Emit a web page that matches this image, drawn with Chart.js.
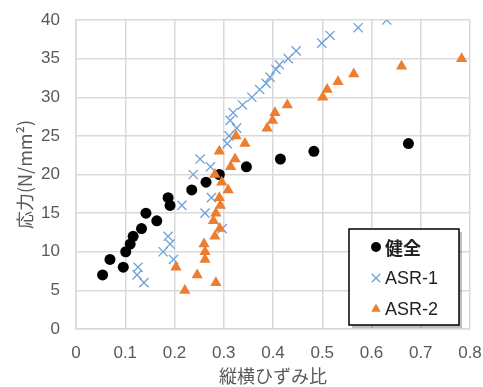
<!DOCTYPE html>
<html>
<head>
<meta charset="utf-8">
<script src="https://cdn.jsdelivr.net/npm/chart.js@4"></script>
<style>
  html, body { margin: 0; padding: 0; background: #fff; }
  #wrap { width: 483px; height: 387px; }
</style>
</head>
<body>
<div id="wrap"><canvas id="c"></canvas></div>
<script>
const seriesNames = ['健全', 'ASR-1', 'ASR-2'];

const kenzenX = [0.054, 0.069, 0.096, 0.101, 0.110, 0.116, 0.133, 0.142, 0.164, 0.187, 0.191, 0.235, 0.264, 0.291, 0.346, 0.415, 0.483, 0.675];
const kenzenY = [7, 9, 8, 10, 11, 12, 13, 15, 14, 17, 16, 18, 19, 20, 21, 22, 23, 24];

const asr1X = [0.138, 0.124, 0.126, 0.198, 0.177, 0.191, 0.187, 0.297, 0.262, 0.215, 0.275, 0.238, 0.273, 0.252, 0.307, 0.311,
               0.326, 0.313, 0.319, 0.338, 0.357, 0.373, 0.386, 0.394, 0.406, 0.413, 0.431, 0.447, 0.499, 0.516, 0.573, 0.631];
const asr1Y = [6, 7, 8, 9, 10, 11, 12, 13, 15, 16, 17, 20, 21, 22, 24, 25,
               26, 27, 28, 29, 30, 31, 31.8, 32.6, 33.6, 34.2, 35, 36, 37, 38, 39, 40];

const asr2X = [0.221, 0.284, 0.246, 0.203, 0.262, 0.262, 0.260, 0.282, 0.292, 0.279, 0.284, 0.293, 0.291, 0.309, 0.296, 0.282,
               0.314, 0.323, 0.291, 0.343, 0.325, 0.388, 0.399, 0.404, 0.429, 0.501, 0.510, 0.532, 0.564, 0.661, 0.783];
const asr2Y = [5, 6, 7, 8, 9, 10, 11, 12, 13, 14, 15, 16, 17, 18, 19, 20,
               21, 22, 23, 24, 25, 26, 27, 28, 29, 30, 31, 32, 33, 34, 35];

const xTicks = [0, 0.1, 0.2, 0.3, 0.4, 0.5, 0.6, 0.7, 0.8];
const yTicks = [0, 5, 10, 15, 20, 25, 30, 35, 40];

const toPoints = (xs, ys) => xs.map((x, i) => ({ x: x, y: ys[i] }));

const gridColor = '#d9d9d9';
const textColor = '#595959';
const numFont = "'Liberation Sans', 'Noto Sans CJK JP', sans-serif";
const jpFont = "'Noto Sans CJK JP', 'Liberation Sans', sans-serif";

// legend box drawn inside the plot, like the Excel one
const legendBox = {
    id: 'legendBox',
    afterDraw(chart) {
        const ctx = chart.ctx;
        const bx = 349, by = 229, bw = 110, bh = 96;
        ctx.save();
        ctx.fillStyle = 'rgba(0,0,0,0.25)';
        ctx.fillRect(bx + 3, by + 3, bw, bh);
        ctx.fillStyle = '#fff';
        ctx.fillRect(bx, by, bw, bh);
        ctx.strokeStyle = '#000';
        ctx.lineWidth = 1.5;
        ctx.strokeRect(bx, by, bw, bh);
        ctx.restore();

        chart.data.datasets.forEach((ds, i) => {
            const cy = by + 18 + i * 31;
            ctx.save();
            ctx.fillStyle = ds.pointBackgroundColor;
            ctx.strokeStyle = ds.pointBorderColor;
            ctx.lineWidth = ds.pointBorderWidth;
            Chart.helpers.drawPoint(ctx, {
                pointStyle: ds.pointStyle,
                radius: ds.legendRadius,
                rotation: 0,
                borderWidth: ds.pointBorderWidth
            }, 376, cy);
            ctx.fillStyle = '#222';
            ctx.font = i === 0 ? "bold 18px " + jpFont : "18px " + numFont;
            ctx.textBaseline = 'middle';
            ctx.fillText(ds.label, 385, cy + 1);
            ctx.restore();
        });
    }
};

new Chart(document.getElementById('c'), {
    type: 'scatter',
    data: {
        datasets: [{
            label: seriesNames[0],
            data: toPoints(kenzenX, kenzenY),
            pointStyle: 'circle',
            pointRadius: 5.5,
            legendRadius: 5,
            pointBackgroundColor: '#000',
            pointBorderColor: '#000',
            pointBorderWidth: 0,
            order: 3
        }, {
            label: seriesNames[1],
            data: toPoints(asr1X, asr1Y),
            pointStyle: 'crossRot',
            pointRadius: 6.5,
            legendRadius: 6,
            pointBackgroundColor: '#6fa0d8',
            pointBorderColor: '#6fa0d8',
            pointBorderWidth: 1.3,
            order: 2
        }, {
            label: seriesNames[2],
            data: toPoints(asr2X, asr2Y),
            pointStyle: 'triangle',
            pointRadius: 6.5,
            legendRadius: 5.5,
            pointBackgroundColor: '#ed7d31',
            pointBorderColor: '#ed7d31',
            pointBorderWidth: 0,
            order: 1
        }]
    },
    options: {
        responsive: true,
        maintainAspectRatio: false,
        animation: false,
        layout: { padding: { top: 20, right: 13, left: 0, bottom: 0 } },
        plugins: {
            legend: { display: false },
            tooltip: { enabled: false }
        },
        scales: {
            x: {
                type: 'linear',
                min: 0,
                max: 0.8,
                afterFit: s => { s.height = 58; s.paddingLeft = 0; s.paddingRight = 0; },
                afterBuildTicks: s => { s.ticks = xTicks.map(v => ({ value: v })); },
                grid: { color: gridColor, lineWidth: 1.5, drawTicks: false },
                border: { color: gridColor, width: 1.5 },
                ticks: {
                    padding: 14,
                    color: textColor,
                    font: { family: numFont, size: 17 },
                    callback: v => String(v)
                },
                title: {
                    display: true,
                    text: '縦横ひずみ比',
                    color: textColor,
                    font: { family: jpFont, size: 18 },
                    padding: 0
                }
            },
            y: {
                type: 'linear',
                min: 0,
                max: 40,
                afterFit: s => { s.width = 76; s.paddingTop = 0; s.paddingBottom = 0; },
                afterBuildTicks: s => { s.ticks = yTicks.map(v => ({ value: v })); },
                grid: { color: gridColor, lineWidth: 1.5, drawTicks: false },
                border: { color: gridColor, width: 1.5 },
                ticks: {
                    padding: 16,
                    color: textColor,
                    font: { family: numFont, size: 17 }
                },
                title: {
                    display: true,
                    text: '応力(N/mm²)',
                    color: textColor,
                    font: { family: jpFont, size: 18 },
                    padding: { top: 14, bottom: 0 }
                }
            }
        }
    },
    plugins: [legendBox]
});
</script>
</body>
</html>
